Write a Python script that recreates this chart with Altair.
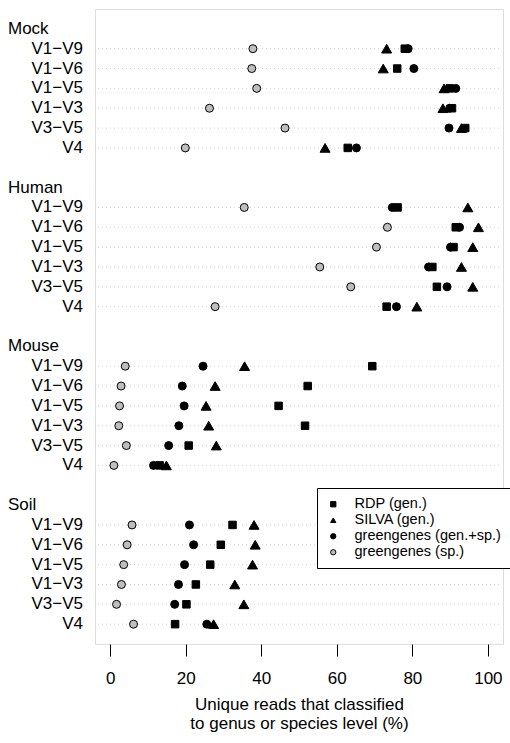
import altair as alt
import pandas as pd

# Sample groups, 16S regions and the four classifier/database series (% of unique reads)
groups = ["Mock", "Human", "Mouse", "Soil"]
regions = ["V1\u2212V9", "V1\u2212V6", "V1\u2212V5", "V1\u2212V3", "V3\u2212V5", "V4"]
series_names = ["RDP (gen.)", "SILVA (gen.)", "greengenes (gen.+sp.)", "greengenes (sp.)"]

rdp = [78.0, 76.0, 89.9, 90.5, 94.0, 62.9,
       76.1, 91.5, 90.9, 85.3, 86.5, 73.2,
       69.4, 52.3, 44.6, 51.6, 20.8, 13.1,
       32.4, 29.3, 26.5, 22.7, 20.2, 17.2]
silva = [73.2, 72.3, 88.4, 88.1, 93.0, 56.9,
         94.7, 97.5, 96.0, 93.0, 96.0, 81.2,
         35.6, 27.8, 25.4, 26.1, 28.1, 14.9,
         38.1, 38.4, 37.7, 33.0, 35.4, 27.4]
gg_gen_sp = [78.9, 80.4, 91.5, 89.9, 89.7, 65.2,
             74.7, 92.5, 90.1, 84.3, 89.2, 75.8,
             24.6, 19.1, 19.6, 18.2, 15.5, 11.5,
             21.0, 22.1, 19.7, 18.1, 17.1, 25.6]
gg_sp = [37.8, 37.5, 38.8, 26.3, 46.3, 19.9,
         35.5, 73.4, 70.5, 55.5, 63.7, 27.8,
         4.0, 2.9, 2.5, 2.3, 4.3, 1.0,
         5.8, 4.5, 3.6, 3.0, 1.7, 6.2]

x_ticks = [0, 20, 40, 60, 80, 100]

# Dot-chart row layout: a header line per group, its regions, then a blank line
rows_per_group = len(regions) + 2
region_rows = []
header_rows = []
for g, grp in enumerate(groups):
    header_rows.append({"row": g * rows_per_group, "label": grp})
    for j, reg in enumerate(regions):
        region_rows.append({"row": g * rows_per_group + 1 + j, "label": reg})

regions_df = pd.DataFrame(region_rows)
headers_df = pd.DataFrame(header_rows)

values_by_series = [rdp, silva, gg_gen_sp, gg_sp]
points = []
for name, vals in zip(series_names, values_by_series):
    for r, v in zip(region_rows, vals):
        points.append({"row": r["row"], "series": name, "value": v})
points_df = pd.DataFrame(points)

W, H = 408, 635
font = "Liberation Sans"

# symbol area per series (squares drawn a little smaller than triangles)
symbol_sizes = [56, 100, 64, 64]

y_enc = alt.Y("row:Q", scale=alt.Scale(domain=[-1, 31], reverse=True, nice=False, zero=False), axis=None)

grid = alt.Chart(regions_df).mark_rule(color="#d3d3d3", strokeDash=[1, 3], strokeWidth=1).encode(
    y=y_enc, x=alt.value(3), x2=alt.value(W - 3)
)

legend = alt.Legend(
    title=None, orient="none", legendX=222, legendY=479,
    strokeColor="black", fillColor="white", padding=9,
    labelFontSize=14.5, labelFont=font, labelColor="black", labelOffset=14,
    symbolSize=28, symbolStrokeWidth=1,
    rowPadding=1,
)

x_enc = alt.X(
    "value:Q",
    scale=alt.Scale(domain=[-4, 104], nice=False, zero=False),
    axis=alt.Axis(
        values=x_ticks, grid=False, domain=False, tickSize=12, tickColor="black",
        labelFontSize=17, labelFont=font, labelColor="black", labelPadding=14,
        title=["Unique reads that classified", "to genus or species level (%)"],
        titleFontSize=17, titleFont=font, titleFontWeight="normal", titleColor="black",
        titleLineHeight=19, titlePadding=10,
    ),
)
shape_enc = alt.Shape("series:N", scale=alt.Scale(domain=series_names, range=["square", "triangle-up", "circle", "circle"]), legend=legend)
fill_enc = alt.Fill("series:N", scale=alt.Scale(domain=series_names, range=["black", "black", "black", "#bebebe"]), legend=legend)
stroke_enc = alt.Stroke("series:N", scale=alt.Scale(domain=series_names, range=["black", "black", "black", "black"]), legend=legend)

base = alt.Chart(points_df)
dot_layers = [
    base.transform_filter(alt.datum.series == name)
    .mark_point(filled=True, strokeWidth=1, opacity=1, size=s)
    .encode(x=x_enc, y=y_enc, shape=shape_enc, fill=fill_enc, stroke=stroke_enc)
    for name, s in zip(series_names, symbol_sizes)
]

region_labels = alt.Chart(regions_df).mark_text(
    align="right", baseline="middle", fontSize=17, font=font, color="black"
).encode(y=y_enc, x=alt.value(-12), text="label:N")

header_labels = alt.Chart(headers_df).mark_text(
    align="left", baseline="middle", fontSize=17, font=font, color="black"
).encode(y=y_enc, x=alt.value(-87), text="label:N")

chart = alt.layer(grid, *dot_layers, region_labels, header_labels).properties(
    width=W, height=H,
    autosize=alt.AutoSizeParams(type="none"),
    padding={"left": 95, "top": 9, "right": 7, "bottom": 99},
).configure_view(stroke="black", strokeWidth=1).configure(background="white")

chart.save("out.html", embed_options={"renderer": "svg", "actions": False})
